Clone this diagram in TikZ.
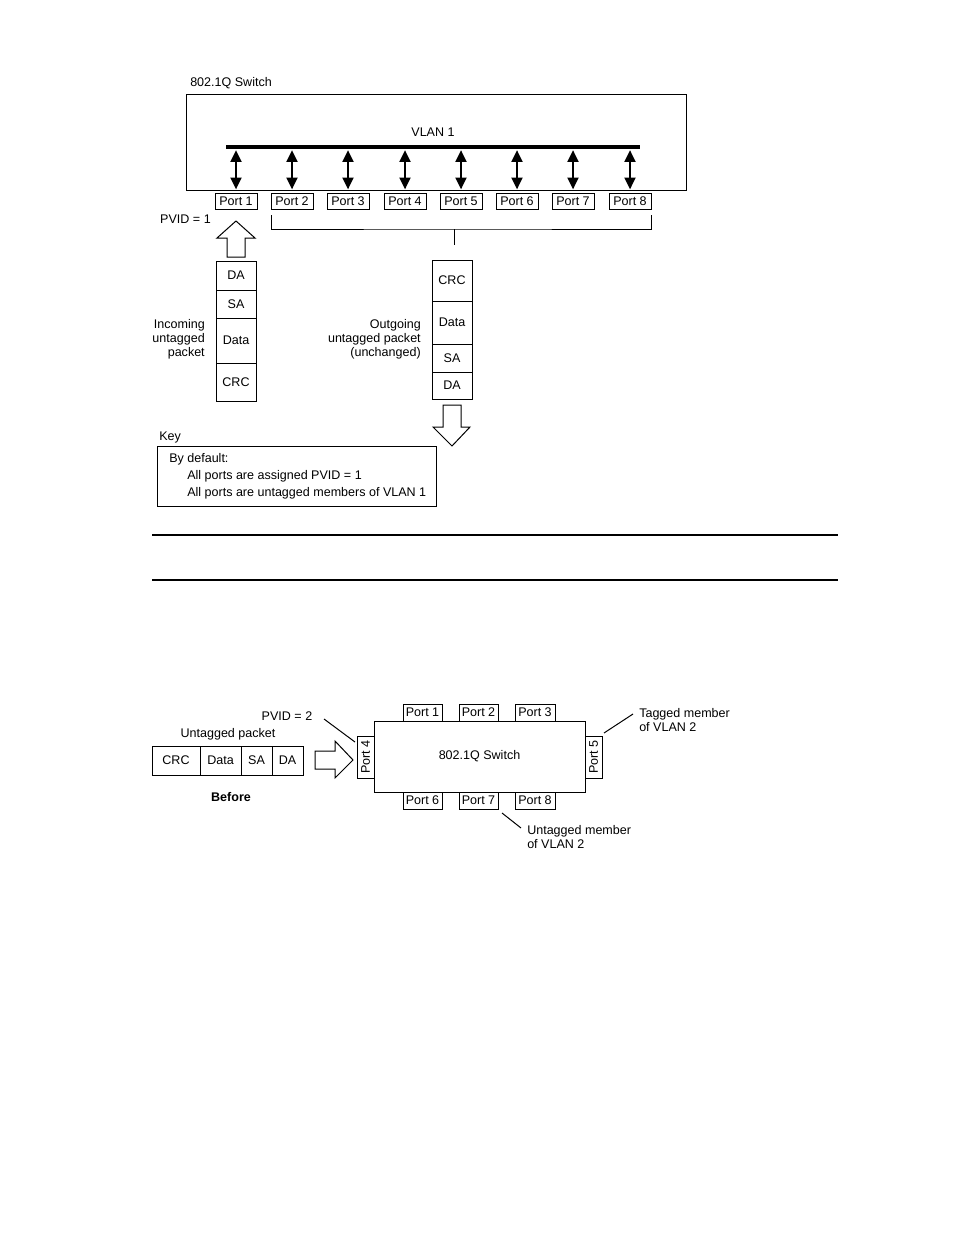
\documentclass[tikz,border=0pt]{standalone}
\usepackage{fontspec}
\setmainfont{Liberation Sans}
\usetikzlibrary{arrows.meta}
\newcommand\mybox[6]{\node[box, minimum width={(#3-#1)*0.75pt}, minimum height={(#4-#2)*0.75pt}] (#5) at ({(#1+#3)/2},{(#2+#4)/2}) {#6};}
\begin{document}
\begin{tikzpicture}[x=0.75pt,y=-0.75pt,
  font=\fontsize{9.4}{10.5}\selectfont,
  box/.style={draw, line width=0.75pt, inner sep=0pt},
  txt/.style={inner sep=0pt, align=left},
  thin/.style={line width=0.75pt},
  vlink/.style={line width=2.2pt, {Triangle[length=9pt,width=8pt]}-{Triangle[length=9pt,width=8pt]}},
  hollow/.style={draw, line width=0.75pt, fill=white, line join=miter}]
\useasboundingbox (0,0) rectangle (954,1235);
% ---------- top figure ----------
\node[txt, anchor=west] (title1) at (190,83) {802.1Q Switch};
\mybox{186}{94}{686}{190}{sw1}{}
\node[txt] (vlan) at (433,132) {VLAN 1};
\coordinate (barL) at (226,147);
\coordinate (barR) at (640,147);
\draw[line width=2.6pt] (barL) -- (barR);
\mybox{215}{193}{257}{209}{p1}{Port 1}
\mybox{271}{193}{313}{209}{p2}{Port 2}
\mybox{327}{193}{369}{209}{p3}{Port 3}
\mybox{384}{193}{426}{209}{p4}{Port 4}
\mybox{440}{193}{482}{209}{p5}{Port 5}
\mybox{496}{193}{538}{209}{p6}{Port 6}
\mybox{552}{193}{594}{209}{p7}{Port 7}
\mybox{609}{193}{651}{209}{p8}{Port 8}
\foreach \i in {1,...,8}{
  \draw[vlink] ([yshift=-2.2pt]p\i.north |- barL) -- ([yshift=2.2pt]p\i.north);
}
% bracket under ports 2..8
\coordinate (brL) at (271,215);
\coordinate (brR) at (651,215);
\coordinate (brM) at (454,229);
\coordinate (brS) at (454,245);
\draw[thin] (brL) |- (brM) -| (brR);
\draw[thin] (brM) -- (brS);
\node[txt, anchor=east] (pvid1) at (211,219) {PVID = 1};
% hollow up arrow
\draw[hollow] (227,257) -- (227,238) -- (217,238) -- (236,221) -- (255,238) -- (245,238) -- (245,257) -- cycle;
% incoming packet
\mybox{216}{261}{256}{290}{ida}{DA}
\mybox{216}{290}{256}{318}{isa}{SA}
\mybox{216}{318}{256}{363}{idata}{Data}
\mybox{216}{363}{256}{401}{icrc}{CRC}
\node[txt, anchor=east, align=right] (inlbl) at (205,339) {Incoming\\untagged\\packet};
% outgoing packet
\mybox{432}{260}{472}{301}{ocrc}{CRC}
\mybox{432}{301}{472}{344}{odata}{Data}
\mybox{432}{344}{472}{372}{osa}{SA}
\mybox{432}{372}{472}{399}{oda}{DA}
\node[txt, anchor=east, align=right] (outlbl) at (421,339) {Outgoing\\untagged packet\\(unchanged)};
% hollow down arrow
\draw[hollow] (443,405) -- (443,427) -- (433,427) -- (452,446) -- (470,427) -- (461,427) -- (461,405) -- cycle;
% key
\node[txt, anchor=west] (keylbl) at (159,437) {Key};
\mybox{157}{446}{436}{506}{keybox}{}
\node[txt, anchor=west] (k1) at (169,459) {By default:};
\node[txt, anchor=west] (k2) at (187,476) {All ports are assigned PVID = 1};
\node[txt, anchor=west] (k3) at (187,493) {All ports are untagged members of VLAN 1};
% rules
\coordinate (r1L) at (152,535); \coordinate (r1R) at (838,535);
\coordinate (r2L) at (152,580); \coordinate (r2R) at (838,580);
\draw[line width=1pt] (r1L) -- (r1R);
\draw[line width=1.8pt] (r2L) -- (r2R);
% ---------- bottom figure ----------
\mybox{374}{721}{585}{792}{sw2}{802.1Q Switch}
\mybox{403}{704}{442}{721}{q1}{Port 1}
\mybox{459}{704}{498}{721}{q2}{Port 2}
\mybox{515}{704}{555}{721}{q3}{Port 3}
\mybox{403}{792}{442}{809}{q6}{Port 6}
\mybox{459}{792}{498}{809}{q7}{Port 7}
\mybox{515}{792}{555}{809}{q8}{Port 8}
\node[box, minimum width={42*0.75pt}, minimum height={17*0.75pt}, rotate=90] (q4) at (365.5,757) {Port 4};
\node[box, minimum width={42*0.75pt}, minimum height={17*0.75pt}, rotate=90] (q5) at (593.5,757) {Port 5};
% untagged packet
\mybox{152}{746}{200}{775}{bcrc}{CRC}
\mybox{200}{746}{241}{775}{bdata}{Data}
\mybox{241}{746}{272}{775}{bsa}{SA}
\mybox{272}{746}{303}{775}{bda}{DA}
\node[txt] (ulbl) at (228,734) {Untagged packet};
\node[txt, font=\fontsize{9.4}{10.5}\selectfont\bfseries] (before) at (231,797) {Before};
% hollow right arrow
\draw[hollow] (315,751) -- (335,751) -- (335,741) -- (353,760) -- (335,778) -- (335,769) -- (315,769) -- cycle;
% callouts
\node[txt] (pvid2) at (287,716) {PVID = 2};
\coordinate (c1a) at (324,719);
\coordinate (c1b) at (355,742);
\draw[thin] (c1a) -- (c1b);
\node[txt, anchor=west] (tag) at (639,720) {Tagged member\\of VLAN 2};
\coordinate (c2a) at (633,714);
\coordinate (c2b) at (604,733);
\draw[thin] (c2b) -- (c2a);
\node[txt, anchor=west] (untag) at (527,837) {Untagged member\\of VLAN 2};
\coordinate (c3a) at (502,813);
\coordinate (c3b) at (521,828);
\draw[thin] (c3a) -- (c3b);
\end{tikzpicture}
\end{document}
